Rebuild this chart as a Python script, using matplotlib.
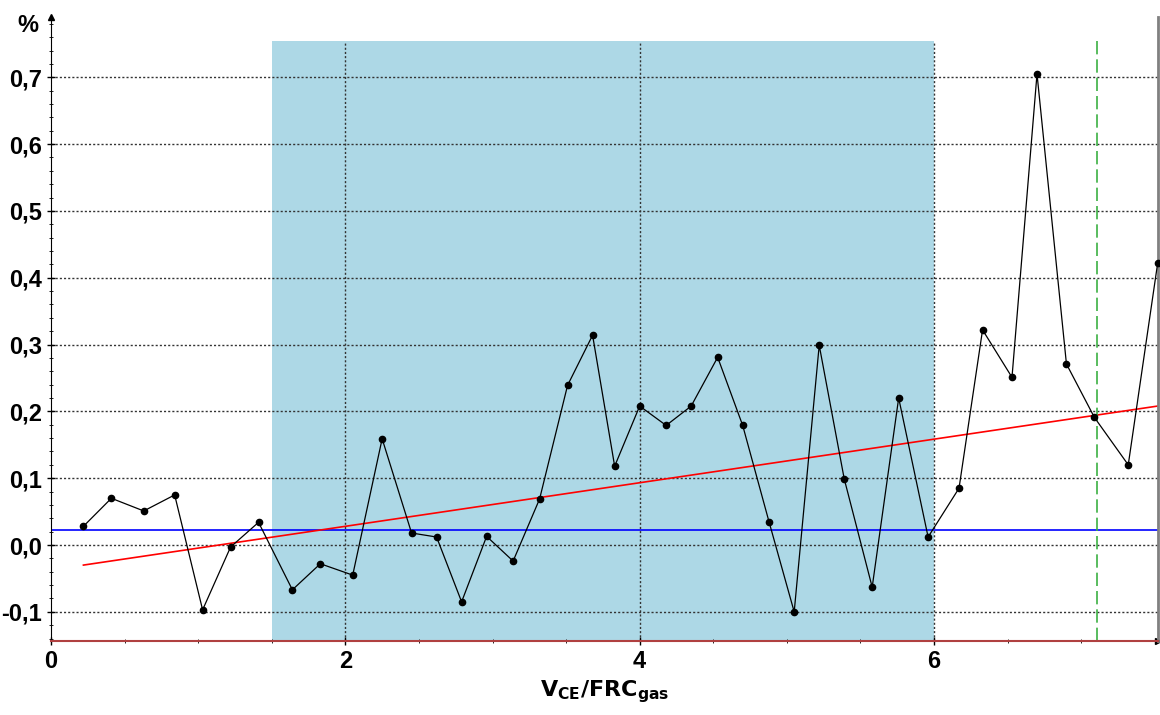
import numpy as np
import matplotlib.pyplot as plt
from matplotlib.ticker import MultipleLocator, FuncFormatter

# точки кривой (x в единицах VCE/FRCgas, y в %)
x_vals = [0.22, 0.41, 0.63, 0.84, 1.03, 1.22, 1.41, 1.64, 1.83, 2.05,
          2.25, 2.45, 2.62, 2.79, 2.96, 3.14, 3.32, 3.51, 3.68, 3.83,
          4.00, 4.18, 4.35, 4.53, 4.70, 4.88, 5.05, 5.22, 5.39, 5.58,
          5.76, 5.96, 6.17, 6.33, 6.53, 6.70, 6.90, 7.09, 7.32, 7.52]
y_vals = [0.028, 0.070, 0.051, 0.075, -0.097, -0.003, 0.034, -0.067, -0.028, -0.045,
          0.159, 0.018, 0.012, -0.085, 0.013, -0.024, 0.069, 0.239, 0.314, 0.118,
          0.208, 0.179, 0.208, 0.281, 0.179, 0.034, -0.100, 0.299, 0.099, -0.063,
          0.220, 0.012, 0.085, 0.322, 0.251, 0.705, 0.271, 0.191, 0.120, 0.422]

trend_x = [0.22, 7.52]
trend_y = [-0.030, 0.208]
mean_level = 0.022
span_x = [1.5, 6.0]
marker_x = 7.11

x_min, x_max = 0, 7.52
y_min, y_max = -0.1436, 0.79
span_top = 0.755


def comma_fmt(v, pos):
    return f"{v:.1f}".replace(".", ",").replace("-0,0", "0,0")


fig = plt.figure(figsize=(11.6, 7.15), dpi=100)
ax = fig.add_axes([0.044, 0.1035, 0.954, 0.8725])

top_frac = (span_top - y_min) / (y_max - y_min)
ax.axvspan(span_x[0], span_x[1], ymin=0, ymax=top_frac,
           color='#add8e6', zorder=0, lw=0)

ax.set_xlim(x_min, x_max)
ax.set_ylim(y_min, y_max)

ax.xaxis.set_major_locator(MultipleLocator(2))
ax.xaxis.set_minor_locator(MultipleLocator(0.5))
ax.yaxis.set_major_locator(MultipleLocator(0.1))
ax.yaxis.set_minor_locator(MultipleLocator(0.02))
ax.yaxis.set_major_formatter(FuncFormatter(comma_fmt))
ax.xaxis.set_major_formatter(FuncFormatter(lambda v, p: f"{v:.0f}"))

# сетка
for yv in np.arange(-0.1, 0.75, 0.1):
    ax.axhline(yv, color='#333333', ls=(0, (1.5, 1.5)), lw=1, zorder=1)
for xv in [2, 4, 6]:
    ax.axvline(xv, ymax=top_frac, color='#333333', ls=(0, (1.5, 1.5)),
               lw=1, zorder=1)

ax.axhline(mean_level, color='blue', lw=1.2, zorder=2)
ax.plot(trend_x, trend_y, color='red', lw=1.2, zorder=2)
ax.axvline(marker_x, ymax=top_frac, color='#3cb043', ls=(0, (8, 3)),
           lw=1.2, zorder=2)

ax.plot(x_vals, y_vals, color='black', lw=0.9, marker='o', ms=4.5,
        zorder=3, clip_on=False)

ax.spines['top'].set_visible(False)
ax.spines['left'].set_color('black')
ax.spines['right'].set_color('gray')
ax.spines['right'].set_linewidth(2)
ax.spines['bottom'].set_color('#b04040')
ax.spines['bottom'].set_linewidth(1.5)

ax.tick_params(axis='both', which='major', direction='inout', length=6,
               labelsize=17, width=1)
ax.tick_params(axis='both', which='minor', direction='inout', length=3)
ax.tick_params(axis='y', right=False)
for lbl in ax.get_xticklabels() + ax.get_yticklabels():
    lbl.set_fontweight('bold')
    lbl.set_family('Liberation Sans')

# стрелки на осях
ax.plot(0, 1, '^k', ms=5, transform=ax.transAxes, clip_on=False)
ax.plot(1, 0, '>k', ms=5, transform=ax.transAxes, clip_on=False)

fig.text(0.024, 0.965, '%', fontsize=17, fontweight='bold',
         family='Liberation Sans', ha='center', va='center')
ax.set_xlabel(r'$\mathbf{V_{CE}/FRC_{gas}}$', fontsize=16, labelpad=4)

fig.savefig('out.png', dpi=100)
